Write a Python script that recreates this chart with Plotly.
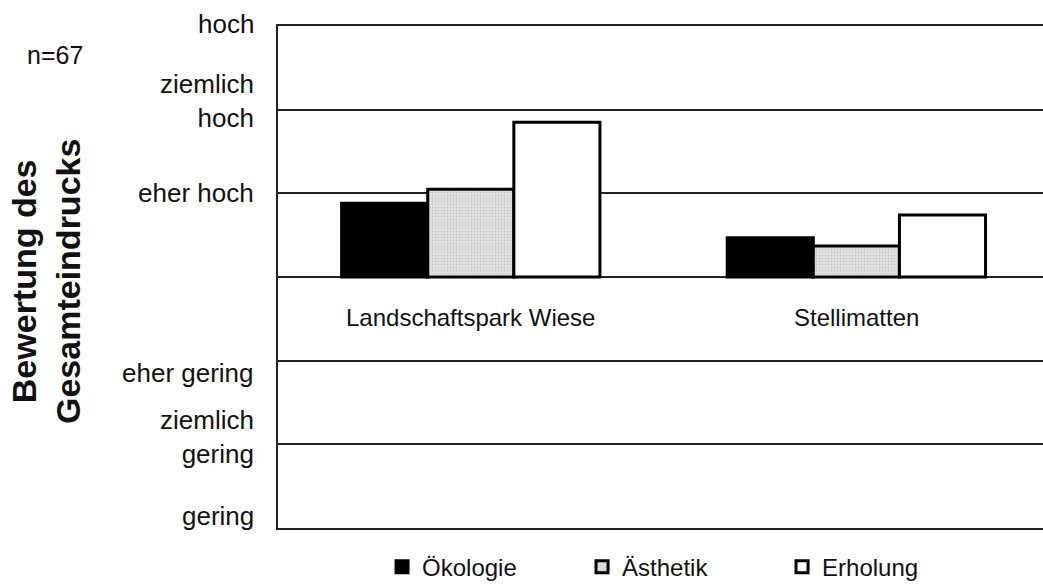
import plotly.graph_objects as go

categories = ["Landschaftspark Wiese", "Stellimatten"]
oekologie = [0.88, 0.47]
aesthetik = [1.05, 0.37]
erholung = [1.85, 0.74]
tick_vals = [3, 2, 1, -1, -2, -3]
tick_text = ["hoch", "ziemlich<br>hoch", "eher hoch", "eher gering", "ziemlich<br>gering", "gering"]
# small pixel nudges of the level labels (style only)
label_nudge = [2, 9, 0, -12, 7, 12]

FONT = "Liberation Sans, Arial, sans-serif"
xpos = list(range(len(categories)))

fig = go.Figure()
fig.add_bar(x=xpos, y=oekologie, name="Ökologie",
            marker=dict(color="#000000", line=dict(color="#000000", width=3)))
fig.add_bar(x=xpos, y=aesthetik, name="Ästhetik",
            marker=dict(color="#dcdcdc", line=dict(color="#000000", width=3),
                        pattern=dict(shape=".", fgcolor="#a8a8a8", bgcolor="#e4e4e4", size=3, solidity=0.3)))
fig.add_bar(x=xpos, y=erholung, name="Erholung",
            marker=dict(color="#ffffff", line=dict(color="#000000", width=3)))

for i, c in enumerate(categories):
    fig.add_annotation(x=i, y=-0.48, text=c, showarrow=False, xref="x", yref="y",
                       font=dict(family=FONT, size=24, color="#111"))

for v, t, s in zip(tick_vals, tick_text, label_nudge):
    fig.add_annotation(x=0, y=v, xref="paper", yref="y", text=t, showarrow=False,
                       xanchor="right", yanchor="middle", align="right", xshift=-22, yshift=s,
                       font=dict(family=FONT, size=26, color="#111"))

fig.add_annotation(x=-0.2915, y=0.942, xref="paper", yref="paper", text="n=67", showarrow=False,
                   xanchor="center", yanchor="middle",
                   font=dict(family=FONT, size=25, color="#111"))
fig.add_annotation(x=-0.3033, y=0.492, xref="paper", yref="paper", text="<b>Bewertung des<br>Gesamteindrucks</b>",
                   textangle=-90, showarrow=False, xanchor="center", yanchor="middle",
                   font=dict(family=FONT, size=34, color="#111"))

fig.update_layout(
    width=1043, height=586,
    margin=dict(l=278, r=0, t=26, b=58, autoexpand=False),
    paper_bgcolor="white", plot_bgcolor="white",
    barmode="group", bargap=0.33, bargroupgap=0,
    showlegend=True,
    legend=dict(orientation="h", x=0.136, xanchor="left", y=-0.033, yanchor="top",
                font=dict(family=FONT, size=24, color="#111"),
                entrywidth=155, entrywidthmode="pixels", traceorder="normal"),
    font=dict(family=FONT, size=24, color="#111"),
)
fig.update_xaxes(range=[-0.5, 1.484], showticklabels=False, showgrid=False, zeroline=False,
                 showline=True, mirror=True, linecolor="#222", linewidth=1.5)
fig.update_yaxes(range=[-3, 3], tickvals=tick_vals, showticklabels=False, showgrid=True,
                 gridcolor="#222", gridwidth=1.5, zeroline=True, zerolinecolor="#222", zerolinewidth=1.5,
                 showline=True, linecolor="#222", linewidth=1.5)

fig.write_html("out.html", config={"displayModeBar": False},
               post_script="document.body.style.margin='0px';document.body.style.overflow='hidden';")
